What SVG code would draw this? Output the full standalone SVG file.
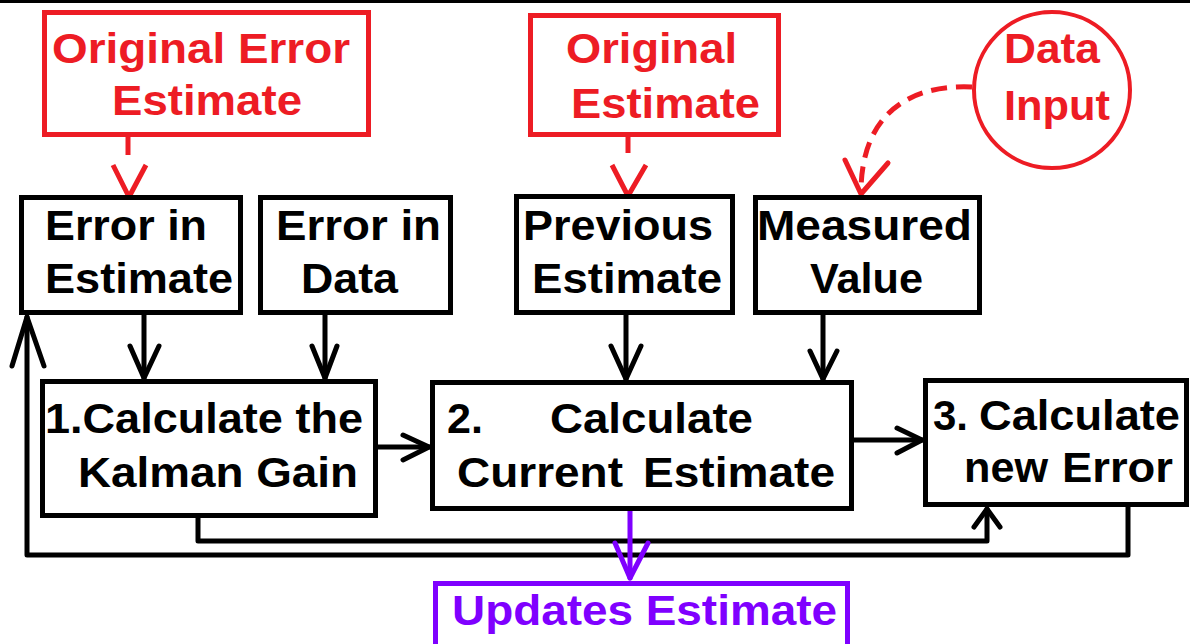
<svg xmlns="http://www.w3.org/2000/svg" width="1190" height="644" viewBox="0 0 1190 644">
  <style>
    text { font-family: "Liberation Sans", Arial, sans-serif; font-weight: bold; font-size: 42px; }
    .blk { fill: #000; }
    .red { fill: #ed1c24; }
    .pur { fill: #7f00ff; }
    .box { fill: #fff; stroke: #000; stroke-width: 5; }
    .rbox { fill: #fff; stroke: #ed1c24; stroke-width: 5; }
    .pbox { fill: #fff; stroke: #7f00ff; stroke-width: 5; }
    .ln { fill: none; stroke: #000; stroke-width: 5; stroke-linejoin: round; stroke-linecap: round; }
    .rln { fill: none; stroke: #ed1c24; stroke-width: 5; stroke-linejoin: round; }
    .pln { fill: none; stroke: #7f00ff; stroke-width: 5; stroke-linejoin: round; stroke-linecap: round; }
  </style>

  <rect x="0" y="0" width="1190" height="3" fill="#000"/>

  <!-- connectors -->
  <g id="connectors">
    <!-- red inputs -->
    <line class="rln" x1="128" y1="137" x2="128" y2="155"/>
    <polyline class="rln" points="113,165 129,197 146,165"/>
    <line class="rln" x1="628" y1="137" x2="628" y2="153"/>
    <polyline class="rln" points="612,165 628,196 646,165"/>
    <path class="rln" d="M972,87 C905,84 862,118 861,190" stroke-dasharray="16 9"/>
    <polyline class="rln" points="845,160 861,194 888,163" style="stroke-linecap:round"/>

    <!-- inputs into step boxes -->
    <line class="ln" x1="144" y1="315" x2="144" y2="378"/>
    <polyline class="ln" points="130,346 144,378 159,346"/>
    <line class="ln" x1="325" y1="313" x2="325" y2="378"/>
    <polyline class="ln" points="312,346 325,378 337,346"/>
    <line class="ln" x1="626" y1="315" x2="626" y2="379"/>
    <polyline class="ln" points="611,346 626,379 641,346"/>
    <line class="ln" x1="823" y1="315" x2="823" y2="379"/>
    <polyline class="ln" points="810,351 823,379 837,351"/>

    <!-- step flow -->
    <line class="ln" x1="378" y1="447" x2="429" y2="447"/>
    <polyline class="ln" points="403,435 429,447 403,460"/>
    <line class="ln" x1="854" y1="440" x2="922" y2="440"/>
    <polyline class="ln" points="897,428 922,440 897,453"/>

    <!-- feedback loops -->
    <polyline class="ln" points="1128,507 1128,555 27,555 27,317"/>
    <polyline class="ln" points="12,366 27,317 44,366"/>
    <polyline class="ln" points="198,518 198,541 987,541 987,509"/>
    <polyline class="ln" points="974,527 987,509 1000,527"/>

    <!-- output -->
    <line class="pln" x1="630" y1="511" x2="630" y2="578"/>
    <polyline class="pln" points="615,543 630,578 648,543"/>
  </g>

  <!-- sources -->
  <g id="orig-error">
    <rect class="rbox" x="44.5" y="12.5" width="324" height="122"/>
    <text class="red" x="52" y="63" textLength="298" lengthAdjust="spacingAndGlyphs">Original Error</text>
    <text class="red" x="112" y="115" textLength="190" lengthAdjust="spacingAndGlyphs">Estimate</text>
  </g>
  <g id="orig-estimate">
    <rect class="rbox" x="530.5" y="15.5" width="248" height="119"/>
    <text class="red" x="566" y="63" textLength="171" lengthAdjust="spacingAndGlyphs">Original</text>
    <text class="red" x="571" y="118" textLength="189" lengthAdjust="spacingAndGlyphs">Estimate</text>
  </g>
  <g id="data-input">
    <circle cx="1052" cy="90" r="78" fill="#fff" stroke="#ed1c24" stroke-width="4"/>
    <text class="red" x="1004" y="63" textLength="96" lengthAdjust="spacingAndGlyphs">Data</text>
    <text class="red" x="1004" y="120" textLength="106" lengthAdjust="spacingAndGlyphs">Input</text>
  </g>

  <!-- inputs -->
  <g id="error-in-estimate">
    <rect class="box" x="21.5" y="197.5" width="219" height="115"/>
    <text class="blk" x="45" y="240" textLength="162" lengthAdjust="spacingAndGlyphs">Error in</text>
    <text class="blk" x="45" y="293" textLength="188" lengthAdjust="spacingAndGlyphs">Estimate</text>
  </g>
  <g id="error-in-data">
    <rect class="box" x="260.5" y="197.5" width="190" height="115"/>
    <text class="blk" x="276" y="240" textLength="165" lengthAdjust="spacingAndGlyphs">Error in</text>
    <text class="blk" x="301" y="293" textLength="97" lengthAdjust="spacingAndGlyphs">Data</text>
  </g>
  <g id="previous-estimate">
    <rect class="box" x="516.5" y="196.5" width="216" height="116"/>
    <text class="blk" x="523" y="240" textLength="190" lengthAdjust="spacingAndGlyphs">Previous</text>
    <text class="blk" x="532" y="293" textLength="190" lengthAdjust="spacingAndGlyphs">Estimate</text>
  </g>
  <g id="measured-value">
    <rect class="box" x="755.5" y="197.5" width="224" height="115"/>
    <text class="blk" x="757" y="240" textLength="215" lengthAdjust="spacingAndGlyphs">Measured</text>
    <text class="blk" x="810" y="293" textLength="113" lengthAdjust="spacingAndGlyphs">Value</text>
  </g>

  <!-- steps -->
  <g id="step1">
    <rect class="box" x="42.5" y="381.5" width="333" height="134"/>
    <text class="blk" x="45" y="433" textLength="318" lengthAdjust="spacingAndGlyphs">1.Calculate the</text>
    <text class="blk" x="78" y="487" textLength="280" lengthAdjust="spacingAndGlyphs">Kalman Gain</text>
  </g>
  <g id="step2">
    <rect class="box" x="432.5" y="382.5" width="419" height="126"/>
    <text class="blk" x="447" y="433" textLength="36" lengthAdjust="spacingAndGlyphs">2.</text>
    <text class="blk" x="550" y="433" textLength="203" lengthAdjust="spacingAndGlyphs">Calculate</text>
    <text class="blk" x="457" y="487" textLength="166" lengthAdjust="spacingAndGlyphs">Current</text>
    <text class="blk" x="643" y="487" textLength="192" lengthAdjust="spacingAndGlyphs">Estimate</text>
  </g>
  <g id="step3">
    <rect class="box" x="925.5" y="380.5" width="261" height="124"/>
    <text class="blk" x="933" y="430" textLength="35" lengthAdjust="spacingAndGlyphs">3.</text>
    <text class="blk" x="979" y="430" textLength="201" lengthAdjust="spacingAndGlyphs">Calculate</text>
    <text class="blk" x="964" y="482" textLength="84" lengthAdjust="spacingAndGlyphs">new</text>
    <text class="blk" x="1062" y="482" textLength="111" lengthAdjust="spacingAndGlyphs">Error</text>
  </g>

  <!-- output -->
  <g id="updates-estimate">
    <rect class="pbox" x="435.5" y="583.5" width="412" height="70"/>
    <text class="pur" x="452" y="625" textLength="385" lengthAdjust="spacingAndGlyphs">Updates Estimate</text>
  </g>
</svg>
